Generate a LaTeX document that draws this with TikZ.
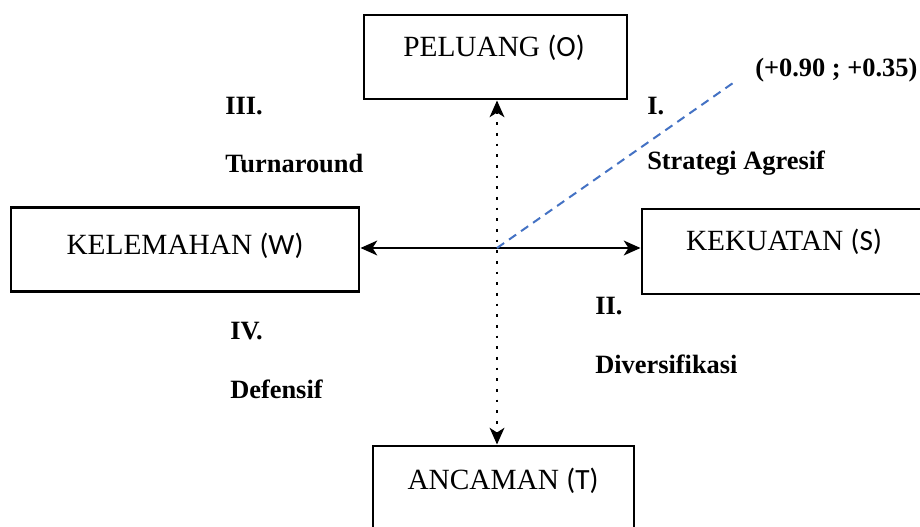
\documentclass[tikz,border=0pt]{standalone}
\usepackage{fontspec}
\setmainfont{Liberation Serif}
\newfontfamily\calibrifont{Carlito}
\usetikzlibrary{arrows.meta}
\definecolor{dashblue}{HTML}{4472C4}
\begin{document}
\begin{tikzpicture}[x=0.75pt,y=-0.75pt,
  boxnode/.style={draw=black,line width=2.2pt,rectangle,inner sep=0pt},
  boxtext/.style={inner sep=0pt,anchor=base,font=\fontsize{22}{24}\selectfont},
  quadlabel/.style={inner sep=0pt,anchor=base west,font=\fontsize{19.8}{22}\selectfont\bfseries},
  tip/.tip={Stealth[length=12.5pt,width=11pt,inset=3.5pt]},
  solidarrow/.style={line width=2.2pt,tip-tip},
  dotarrow/.style={line width=2pt,dash pattern=on 2pt off 6pt,tip-tip},
  bluedash/.style={dashblue,line width=1.5pt,dash pattern=on 6.5pt off 4.5pt}]
\useasboundingbox (0,0) rectangle (920,527);
\fill[white] (0,0) rectangle (920,527);
\clip (0,0) rectangle (920,527);

% boxes
\node[boxnode,minimum width=263*0.75pt,minimum height=84*0.75pt] (O) at (495.5,57) {};
\node[boxnode,minimum width=348*0.75pt,minimum height=84*0.75pt] (W) at (185,249.5) {};
\node[boxnode,minimum width=293*0.75pt,minimum height=85*0.75pt] (S) at (788.5,251.5) {};
\node[boxnode,minimum width=261*0.75pt,minimum height=84*0.75pt] (T) at (503.5,488) {};

% box texts
\node[boxtext] (Otext) at (494,57) {PELUANG {\calibrifont(O)}};
\node[boxtext] (Wtext) at (185,254) {KELEMAHAN {\calibrifont(W)}};
\node[boxtext] (Stext) at (784,250) {KEKUATAN {\calibrifont(S)}};
\node[boxtext] (Ttext) at (503,489) {ANCAMAN {\calibrifont(T)}};

% axes
\coordinate (c) at (497,248);
\coordinate (e) at (733,83);
\draw[solidarrow] (c -| W.east) -- (c -| S.west);
\draw[dotarrow] (c |- O.south) -- (c |- T.north);
\draw[bluedash] (c) -- (e);

% labels
\node[quadlabel] (pt) at (755,77) {(+0.90 ; +0.35)};
\node[quadlabel] (q1) at (647,115) {I.};
\node[quadlabel] (q1n) at (647,170) {Strategi Agresif};
\node[quadlabel] (q3) at (225,115) {III.};
\node[quadlabel] (q3n) at (225,173) {Turnaround};
\node[quadlabel] (q4) at (230,339) {IV.};
\node[quadlabel] (q4n) at (230,398) {Defensif};
\node[quadlabel] (q2) at (595,314) {II.};
\node[quadlabel] (q2n) at (595,373) {Diversifikasi};
\end{tikzpicture}
\end{document}
